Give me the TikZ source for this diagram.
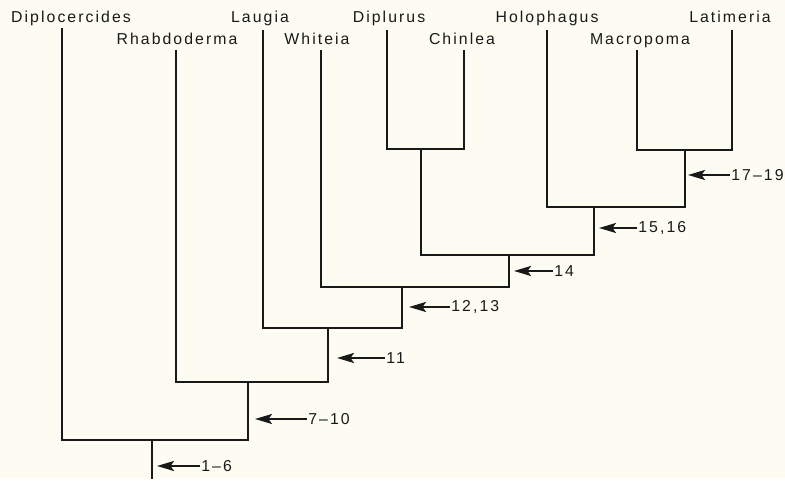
\documentclass[tikz,border=0pt]{standalone}
\usepackage{fontspec}
\setmainfont{Liberation Sans}[LetterSpace=13]
\usetikzlibrary{arrows.meta}
\definecolor{paper}{RGB}{253,252,243}
\definecolor{ink}{RGB}{25,25,25}
\begin{document}
\begin{tikzpicture}[
    taxon/.style={anchor=base, inner sep=0pt, text=ink, font=\fontsize{9}{11}\selectfont},
    steps/.style={anchor=west, inner sep=0.6pt, text=ink, font=\fontsize{9}{11}\selectfont},
    branch/.style={line width=1.15pt, ink},
    apo/.style={-{Stealth[length=3.4mm,width=2mm,inset=0.7mm]}, line width=1.15pt, ink}]
        % paper
        \fill[paper] (0,0) rectangle (15.7,9.58);

        % taxa
        \node[taxon] (diplo) at (1.42,9.12) {Diplocercides};
        \node[taxon] (rhab) at (3.54,8.68) {Rhabdoderma};
        \node[taxon] (laug) at (5.20,9.12) {Laugia};
        \node[taxon] (whit) at (6.34,8.68) {Whiteia};
        \node[taxon] (diplu) at (7.78,9.12) {Diplurus};
        \node[taxon] (chin) at (9.24,8.68) {Chinlea};
        \node[taxon] (holo) at (10.94,9.12) {Holophagus};
        \node[taxon] (macro) at (12.80,8.68) {Macropoma};
        \node[taxon] (lati) at (14.60,9.12) {Latimeria};

        % tips
        \coordinate (tdiplo) at (1.24,9.02);
        \coordinate (trhab) at (3.52,8.58);
        \coordinate (tlaug) at (5.26,8.98);
        \coordinate (twhit) at (6.42,8.58);
        \coordinate (tdiplu) at (7.74,8.98);
        \coordinate (tchin) at (9.28,8.58);
        \coordinate (tholo) at (10.94,8.98);
        \coordinate (tmacro) at (12.74,8.58);
        \coordinate (tlati) at (14.64,8.98);

        % branching points
        \coordinate (ml) at (13.70,6.58);
        \coordinate (hm) at (11.88,5.44);
        \coordinate (dc) at (8.42,6.60);
        \coordinate (dh) at (10.18,4.48);
        \coordinate (wd) at (8.04,3.84);
        \coordinate (lw) at (6.56,3.02);
        \coordinate (rl) at (4.96,1.94);
        \coordinate (dr) at (3.04,0.78);
        \coordinate (root) at (3.04,0);

        % tree
        \draw[branch] (tmacro) |- (ml) -| (tlati);
        \draw[branch] (tholo) |- (hm) -| (ml);
        \draw[branch] (tdiplu) |- (dc) -| (tchin);
        \draw[branch] (dc) |- (dh) -| (hm);
        \draw[branch] (twhit) |- (wd) -| (dh);
        \draw[branch] (tlaug) |- (lw) -| (wd);
        \draw[branch] (trhab) |- (rl) -| (lw);
        \draw[branch] (tdiplo) |- (dr) -| (rl);
        \draw[branch] (dr) -- (root);

        % characters
        \coordinate (h1) at (3.14,0.26);
        \coordinate (h2) at (5.10,1.20);
        \coordinate (h3) at (6.74,2.42);
        \coordinate (h4) at (8.18,3.44);
        \coordinate (h5) at (10.28,4.16);
        \coordinate (h6) at (11.98,5.02);
        \coordinate (h7) at (13.76,6.08);
        \node[steps] (c1) at (4.00,0.26) {1--6};
        \node[steps] (c2) at (6.14,1.20) {7--10};
        \node[steps] (c3) at (7.70,2.42) {11};
        \node[steps] (c4) at (9.00,3.44) {12,13};
        \node[steps] (c5) at (11.06,4.16) {14};
        \node[steps] (c6) at (12.74,5.02) {15,16};
        \node[steps] (c7) at (14.60,6.08) {17--19};
        \draw[apo] (c1) -- (h1);
        \draw[apo] (c2) -- (h2);
        \draw[apo] (c3) -- (h3);
        \draw[apo] (c4) -- (h4);
        \draw[apo] (c5) -- (h5);
        \draw[apo] (c6) -- (h6);
        \draw[apo] (c7) -- (h7);
\end{tikzpicture}
\end{document}
